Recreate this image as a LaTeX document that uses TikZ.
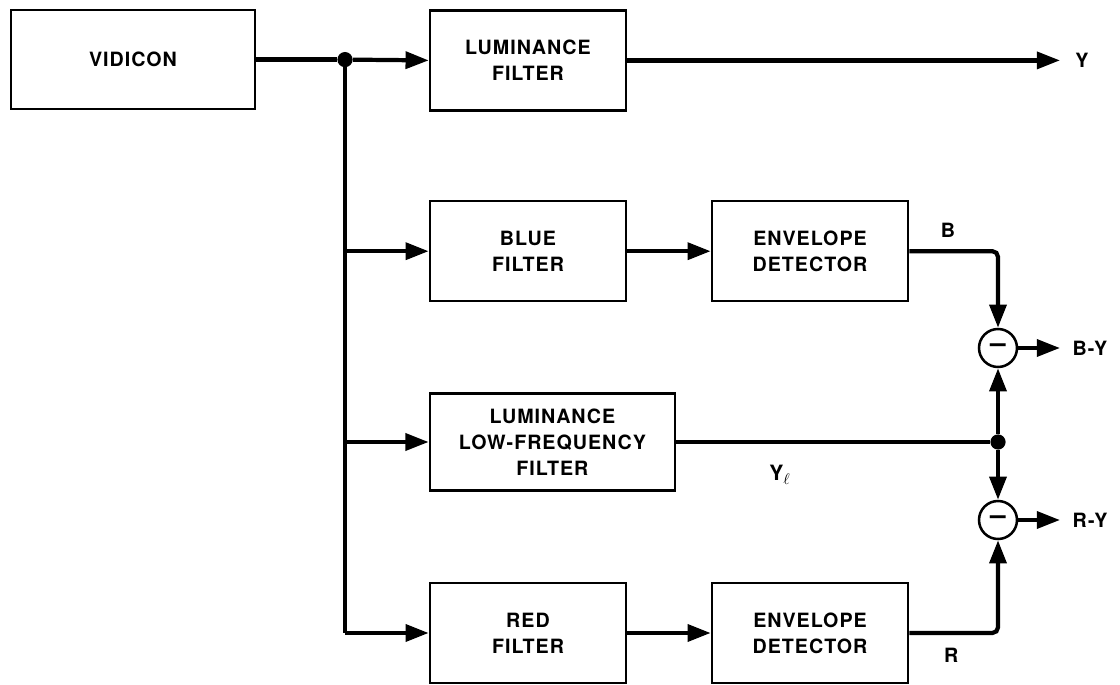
\documentclass[tikz,border=0pt]{standalone}
\usepackage{fontspec}
\setmainfont{TeX Gyre Heros}[LetterSpace=5]
\usetikzlibrary{arrows.meta, positioning, calc}

\begin{document}
\begin{tikzpicture}[
  block/.style={rectangle, draw, line width=1.8pt, minimum width=4.9cm, minimum height=2.5cm, align=center, font=\fontsize{14}{18.5}\selectfont\bfseries},
  summer/.style={circle, draw, line width=1.8pt, minimum size=0.95cm, inner sep=0pt, font=\fontsize{20}{20}\selectfont\bfseries},
  dot/.style={circle, fill, inner sep=0pt, minimum size=0.38cm},
  lbl/.style={font=\fontsize{14}{16}\selectfont\bfseries},
  fwd/.style={-{Triangle[length=5.8mm, width=4.2mm]}, line width=3pt},
  wire/.style={line width=3pt}
]
\useasboundingbox (0,0) rectangle (28,-17.125);

\node[block, minimum width=6.1cm, minimum height=2.475cm] (vidicon) at (3.325,-1.49) {VIDICON};
\node[block] (lumfilt)  at (13.2,-1.51) {LUMINANCE\\FILTER};
\node[block] (bluefilt) at (13.2,-6.28) {BLUE\\FILTER};
\node[block] (envblue)  at (20.25,-6.28) {ENVELOPE\\DETECTOR};
\node[block, minimum width=6.125cm, minimum height=2.425cm] (lowfilt) at (13.81,-11.05) {LUMINANCE\\LOW-FREQUENCY\\FILTER};
\node[block] (redfilt)  at (13.2,-15.825) {RED\\FILTER};
\node[block] (envred)   at (20.25,-15.825) {ENVELOPE\\DETECTOR};

% Subtractors
\node[summer] (subblue) at (24.95,-8.7) {--};
\node[summer] (subred)  at (24.95,-13.0) {--};

% Junctions
\node[dot] (split) at (8.625,-1.49) {};
\node[dot] (join)  at (subblue |- lowfilt) {};
\coordinate (busend) at (split |- redfilt);

% Outputs
\coordinate (yout)  at (26.5,-1.51);
\coordinate (byout) at (26.5,-8.7);
\coordinate (ryout) at (26.5,-13.0);
\node[lbl] (ylab)  at (27.05,-1.51) {Y};
\node[lbl] (bylab) at (27.25,-8.7) {B-Y};
\node[lbl] (rylab) at (27.25,-13.0) {R-Y};

% Signal labels
\node[lbl] (blab)  at (23.7,-5.75) {B};
\node[lbl] (rlab)  at (23.78,-16.375) {R};
\node[lbl, font=\fontsize{15}{16}\selectfont\bfseries] (yllab) at (19.5,-11.875) {Y$_{\ell}$};

% Distribution bus
\draw[wire] (vidicon.east) -- (split);
\draw[fwd] (split) -- (lumfilt.west);
\draw[wire] (split) -- (busend);
\draw[fwd] (split |- bluefilt) -- (bluefilt.west);
\draw[fwd] (split |- lowfilt) -- (lowfilt.west);
\draw[fwd] (busend) -- (redfilt.west);

% Chroma paths
\draw[fwd] (lumfilt.east) -- (yout);
\draw[fwd] (bluefilt) -- (envblue);
\draw[fwd] (redfilt) -- (envred);
\draw[fwd, rounded corners=4pt] (envblue.east) -| (subblue.north);
\draw[fwd, rounded corners=4pt] (envred.east) -| (subred.south);

% Low-frequency luminance
\draw[wire] (lowfilt.east) -- (join);
\draw[fwd] (join) -- (subblue.south);
\draw[fwd] (join) -- (subred.north);

% Difference outputs
\draw[fwd] (subblue) -- (byout);
\draw[fwd] (subred) -- (ryout);

\end{tikzpicture}
\end{document}
